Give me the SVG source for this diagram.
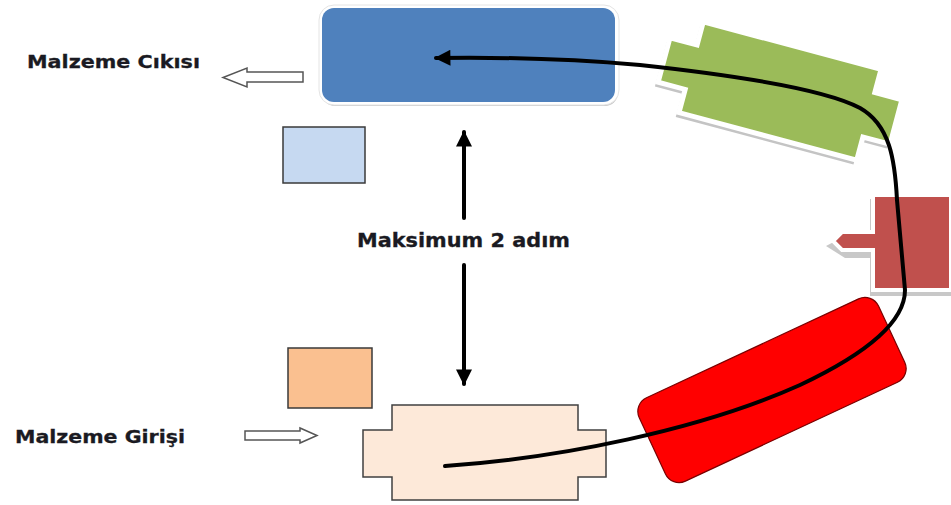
<svg xmlns="http://www.w3.org/2000/svg" width="951" height="505" viewBox="0 0 951 505">
<style>
.lbl{font-family:"DejaVu Sans","Liberation Sans",sans-serif;font-weight:bold;fill:#1a1a22;stroke:#1a1a22;stroke-width:0.3}
.conn{fill:none;stroke:#000;stroke-width:4;stroke-linecap:round}
.hollow{fill:#fff;stroke:#555;stroke-width:1.5;stroke-linejoin:miter}
.sq{stroke:#3a3a3a;stroke-width:1.5}
</style>
<defs>
<marker id="ah" viewBox="0 0 10 10" refX="9" refY="5" markerWidth="5" markerHeight="4" orient="auto" markerUnits="strokeWidth">
<path d="M0,0 L10,5 L0,10 z" fill="#000"/>
</marker>
</defs>
<rect width="951" height="505" fill="#fff"/>

<g id="blue-box">
<rect x="322" y="10" width="296" height="96" rx="13" fill="#c9c9c9"/>
<rect x="319" y="5" width="300" height="100" rx="15" fill="#fff" stroke="#e4e4e4" stroke-width="1"/>
<rect x="322" y="8" width="293" height="94" rx="12" fill="#4f81bd"/>
</g>

<g id="light-blue-square">
<rect x="283" y="127" width="82" height="56" fill="#c6d9f1" class="sq"/>
</g>

<g id="peach-square">
<rect x="288" y="348" width="84" height="60" fill="#fac090" class="sq"/>
</g>

<g id="green-shape" transform="translate(780,91) rotate(15)">
<polygon transform="translate(-2,5)" points="-92,-47 92,-47 92,-23 120,-23 120,23 92,23 92,47 -92,47 -92,23 -120,23 -120,-23 -92,-23" fill="#c4c4c4"/>
<polygon points="-92,-47 92,-47 92,-23 120,-23 120,23 92,23 92,47 -92,47 -92,23 -120,23 -120,-23 -92,-23" fill="#9bbb59" stroke="#fff" stroke-width="5" stroke-linejoin="miter"/>
</g>

<g id="dark-red-shape">
<polygon points="870,199 951,199 951,296 870,296 870,258 845,258 826,246 845,236 870,236" fill="#c8c8c8"/>
<polygon points="873,195 951,195 951,290 873,290 873,250 842,250 833,241 842,232 873,232" fill="#c0504d" stroke="#fff" stroke-width="4"/>
</g>

<g id="red-box">
<rect x="-132" y="-46" width="264" height="92" rx="15" transform="translate(772,390) rotate(-25)" fill="#ff0000" stroke="#7a0000" stroke-width="1.2"/>
</g>

<g id="peach-cross">
<polygon points="392,405 578,405 578,430 606,430 606,477 578,477 578,500 392,500 392,477 363,477 363,430 392,430" fill="#fde9d9" stroke="#404040" stroke-width="1.5"/>
</g>

<g id="out-arrow">
<polygon class="hollow" points="303,72 247,72 247,68 223,77.5 247,87 247,82 303,82"/>
</g>
<g id="in-arrow">
<polygon class="hollow" points="245,431 300,431 300,428 317,435.5 300,443 300,440 245,440"/>
</g>

<g id="labels">
<text class="lbl" x="27" y="68" font-size="18" textLength="173" lengthAdjust="spacingAndGlyphs">Malzeme Cıkısı</text>
<text class="lbl" x="15" y="443" font-size="18" textLength="170" lengthAdjust="spacingAndGlyphs">Malzeme Girişi</text>
<text class="lbl" x="357" y="247" font-size="19" textLength="213" lengthAdjust="spacingAndGlyphs">Maksimum 2 adım</text>
</g>

<g id="connectors">
<line x1="464" y1="218" x2="464" y2="132" class="conn" marker-end="url(#ah)"/>
<line x1="464" y1="265" x2="464" y2="384" class="conn" marker-end="url(#ah)"/>
<path class="conn" marker-end="url(#ah)" d="M445,466 C560,458 700,430 800,385 C870,352 905,320 905,290 L897,200 C895,160 890,125 860,108 C830,92 760,78 640,65 C560,58 500,57 436,58"/>
</g>
</svg>
